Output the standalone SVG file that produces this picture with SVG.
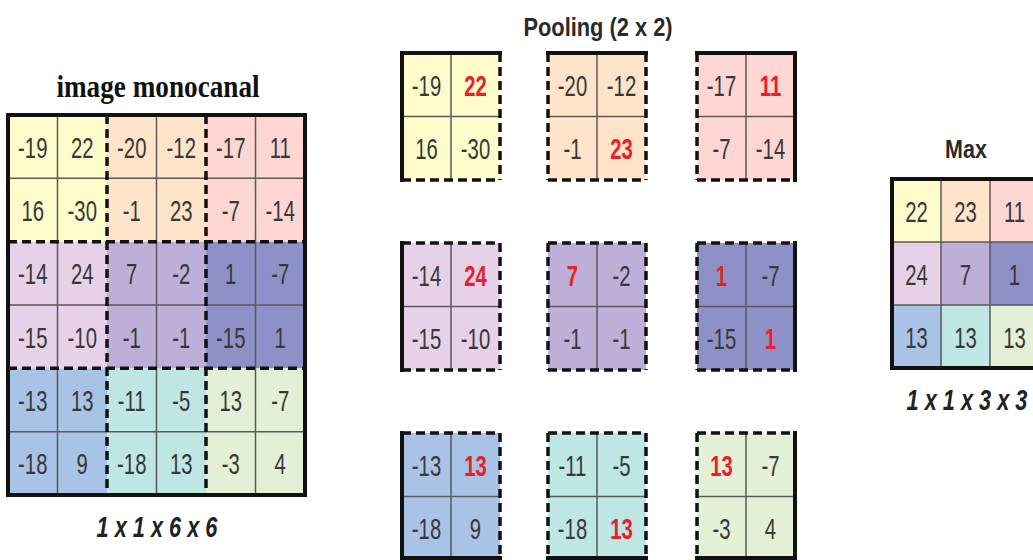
<svg xmlns="http://www.w3.org/2000/svg" width="1033" height="560" viewBox="0 0 1033 560">
<style>
.t{font-family:"Liberation Sans",Arial,sans-serif;font-size:29px;fill:#383838;text-anchor:middle}
.r{fill:#e8202a;font-weight:bold}
.thin{stroke:#5a5a5a;stroke-width:1.5;fill:none}
.dash{stroke:#111;stroke-width:3.5;stroke-dasharray:9 5;fill:none}
.solid{stroke:#111;stroke-width:4;fill:none;stroke-linecap:square}
.ttl{font-family:"Liberation Sans",Arial,sans-serif;font-weight:bold;fill:#2a2a2a;text-anchor:middle}
.dim{font-family:"Liberation Sans",Arial,sans-serif;font-weight:bold;font-style:italic;font-size:29px;fill:#222;text-anchor:middle}
.y{fill:#FEFCCB}.p{fill:#FFE4C9}.k{fill:#FDD5D3}.l{fill:#E6D1E8}.v{fill:#BEAFD8}.i{fill:#8D91C7}.b{fill:#A9C3E6}.c{fill:#BEE6E3}.g{fill:#E3F0D5}
</style>
<g id="connectors"/>
<g id="input-grid">
<text transform="translate(158,97) scale(0.85,1)" style="font-family:'Liberation Serif','Times New Roman',serif;font-weight:bold;font-size:32px;fill:#111;text-anchor:middle">image monocanal</text>
<rect class="y" x="8" y="115" width="99" height="126.7"/>
<rect class="p" x="107" y="115" width="99" height="126.7"/>
<rect class="k" x="206" y="115" width="99" height="126.7"/>
<rect class="l" x="8" y="241.7" width="99" height="126.6"/>
<rect class="v" x="107" y="241.7" width="99" height="126.6"/>
<rect class="i" x="206" y="241.7" width="99" height="126.6"/>
<rect class="b" x="8" y="368.3" width="99" height="126.7"/>
<rect class="c" x="107" y="368.3" width="99" height="126.7"/>
<rect class="g" x="206" y="368.3" width="99" height="126.7"/>
<path class="thin" d="M57.5 115V495M156.5 115V495M255.5 115V495M8 178.3H305M8 305H305M8 431.7H305"/>
<path class="dash" d="M107 115V495M206 115V495M8 241.7H305M8 368.3H305"/>
<rect class="solid" x="8" y="115" width="297" height="380"/>
<g class="t">
<text transform="translate(32.75,157.7) scale(0.7,1)">-19</text>
<text transform="translate(82.25,157.7) scale(0.7,1)">22</text>
<text transform="translate(131.75,157.7) scale(0.7,1)">-20</text>
<text transform="translate(181.25,157.7) scale(0.7,1)">-12</text>
<text transform="translate(230.75,157.7) scale(0.7,1)">-17</text>
<text transform="translate(280.25,157.7) scale(0.7,1)">11</text>
<text transform="translate(32.75,221) scale(0.7,1)">16</text>
<text transform="translate(82.25,221) scale(0.7,1)">-30</text>
<text transform="translate(131.75,221) scale(0.7,1)">-1</text>
<text transform="translate(181.25,221) scale(0.7,1)">23</text>
<text transform="translate(230.75,221) scale(0.7,1)">-7</text>
<text transform="translate(280.25,221) scale(0.7,1)">-14</text>
<text transform="translate(32.75,284.3) scale(0.7,1)">-14</text>
<text transform="translate(82.25,284.3) scale(0.7,1)">24</text>
<text transform="translate(131.75,284.3) scale(0.7,1)">7</text>
<text transform="translate(181.25,284.3) scale(0.7,1)">-2</text>
<text transform="translate(230.75,284.3) scale(0.7,1)">1</text>
<text transform="translate(280.25,284.3) scale(0.7,1)">-7</text>
<text transform="translate(32.75,347.7) scale(0.7,1)">-15</text>
<text transform="translate(82.25,347.7) scale(0.7,1)">-10</text>
<text transform="translate(131.75,347.7) scale(0.7,1)">-1</text>
<text transform="translate(181.25,347.7) scale(0.7,1)">-1</text>
<text transform="translate(230.75,347.7) scale(0.7,1)">-15</text>
<text transform="translate(280.25,347.7) scale(0.7,1)">1</text>
<text transform="translate(32.75,411) scale(0.7,1)">-13</text>
<text transform="translate(82.25,411) scale(0.7,1)">13</text>
<text transform="translate(131.75,411) scale(0.7,1)">-11</text>
<text transform="translate(181.25,411) scale(0.7,1)">-5</text>
<text transform="translate(230.75,411) scale(0.7,1)">13</text>
<text transform="translate(280.25,411) scale(0.7,1)">-7</text>
<text transform="translate(32.75,474.3) scale(0.7,1)">-18</text>
<text transform="translate(82.25,474.3) scale(0.7,1)">9</text>
<text transform="translate(131.75,474.3) scale(0.7,1)">-18</text>
<text transform="translate(181.25,474.3) scale(0.7,1)">13</text>
<text transform="translate(230.75,474.3) scale(0.7,1)">-3</text>
<text transform="translate(280.25,474.3) scale(0.7,1)">4</text>
</g>
<text class="dim" transform="translate(157,537) scale(0.75,1)">1 x 1 x 6 x 6</text>
</g>
<text class="ttl" transform="translate(598,36) scale(0.84,1)" style="font-size:26px">Pooling (2 x 2)</text>
<g id="pool-0-0">
<rect class="y" x="402" y="53" width="98" height="127"/>
<path class="thin" d="M451 53V180M402 116.5H500"/>
<path class="dash" d="M500 53V180M402 180H500"/>
<path class="solid" d="M402 180V53H500"/>
<g class="t"><text transform="translate(426.5,95.75) scale(0.7,1)">-19</text><text class="r" transform="translate(475.5,95.75) scale(0.7,1)">22</text><text transform="translate(426.5,159.25) scale(0.7,1)">16</text><text transform="translate(475.5,159.25) scale(0.7,1)">-30</text></g>
</g>
<g id="pool-0-1">
<rect class="p" x="548" y="53" width="98" height="127"/>
<path class="thin" d="M597 53V180M548 116.5H646"/>
<path class="dash" d="M548 53V180M646 53V180M548 180H646"/>
<path class="solid" d="M548 53H646"/>
<g class="t"><text transform="translate(572.5,95.75) scale(0.7,1)">-20</text><text transform="translate(621.5,95.75) scale(0.7,1)">-12</text><text transform="translate(572.5,159.25) scale(0.7,1)">-1</text><text class="r" transform="translate(621.5,159.25) scale(0.7,1)">23</text></g>
</g>
<g id="pool-0-2">
<rect class="k" x="697" y="53" width="98" height="127"/>
<path class="thin" d="M746 53V180M697 116.5H795"/>
<path class="dash" d="M697 53V180M697 180H795"/>
<path class="solid" d="M697 53H795V180"/>
<g class="t"><text transform="translate(721.5,95.75) scale(0.7,1)">-17</text><text class="r" transform="translate(770.5,95.75) scale(0.7,1)">11</text><text transform="translate(721.5,159.25) scale(0.7,1)">-7</text><text transform="translate(770.5,159.25) scale(0.7,1)">-14</text></g>
</g>
<g id="pool-1-0">
<rect class="l" x="402" y="243" width="98" height="127"/>
<path class="thin" d="M451 243V370M402 306.5H500"/>
<path class="dash" d="M402 243H500M500 243V370M402 370H500"/>
<path class="solid" d="M402 243V370"/>
<g class="t"><text transform="translate(426.5,285.75) scale(0.7,1)">-14</text><text class="r" transform="translate(475.5,285.75) scale(0.7,1)">24</text><text transform="translate(426.5,349.25) scale(0.7,1)">-15</text><text transform="translate(475.5,349.25) scale(0.7,1)">-10</text></g>
</g>
<g id="pool-1-1">
<rect class="v" x="548" y="243" width="98" height="127"/>
<path class="thin" d="M597 243V370M548 306.5H646"/>
<path class="dash" d="M548 243H646M548 243V370M646 243V370M548 370H646"/>
<g class="t"><text class="r" transform="translate(572.5,285.75) scale(0.7,1)">7</text><text transform="translate(621.5,285.75) scale(0.7,1)">-2</text><text transform="translate(572.5,349.25) scale(0.7,1)">-1</text><text transform="translate(621.5,349.25) scale(0.7,1)">-1</text></g>
</g>
<g id="pool-1-2">
<rect class="i" x="697" y="243" width="98" height="127"/>
<path class="thin" d="M746 243V370M697 306.5H795"/>
<path class="dash" d="M697 243H795M697 243V370M697 370H795"/>
<path class="solid" d="M795 243V370"/>
<g class="t"><text class="r" transform="translate(721.5,285.75) scale(0.7,1)">1</text><text transform="translate(770.5,285.75) scale(0.7,1)">-7</text><text transform="translate(721.5,349.25) scale(0.7,1)">-15</text><text class="r" transform="translate(770.5,349.25) scale(0.7,1)">1</text></g>
</g>
<g id="pool-2-0">
<rect class="b" x="402" y="433" width="98" height="127"/>
<path class="thin" d="M451 433V560M402 496.5H500"/>
<path class="dash" d="M402 433H500M500 433V560"/>
<path class="solid" d="M402 433V558H500"/>
<g class="t"><text transform="translate(426.5,475.75) scale(0.7,1)">-13</text><text class="r" transform="translate(475.5,475.75) scale(0.7,1)">13</text><text transform="translate(426.5,539.25) scale(0.7,1)">-18</text><text transform="translate(475.5,539.25) scale(0.7,1)">9</text></g>
</g>
<g id="pool-2-1">
<rect class="c" x="548" y="433" width="98" height="127"/>
<path class="thin" d="M597 433V560M548 496.5H646"/>
<path class="dash" d="M548 433H646M548 433V560M646 433V560"/>
<path class="solid" d="M548 558H646"/>
<g class="t"><text transform="translate(572.5,475.75) scale(0.7,1)">-11</text><text transform="translate(621.5,475.75) scale(0.7,1)">-5</text><text transform="translate(572.5,539.25) scale(0.7,1)">-18</text><text class="r" transform="translate(621.5,539.25) scale(0.7,1)">13</text></g>
</g>
<g id="pool-2-2">
<rect class="g" x="697" y="433" width="98" height="127"/>
<path class="thin" d="M746 433V560M697 496.5H795"/>
<path class="dash" d="M697 433H795M697 433V560"/>
<path class="solid" d="M795 433V558H697"/>
<g class="t"><text class="r" transform="translate(721.5,475.75) scale(0.7,1)">13</text><text transform="translate(770.5,475.75) scale(0.7,1)">-7</text><text transform="translate(721.5,539.25) scale(0.7,1)">-3</text><text transform="translate(770.5,539.25) scale(0.7,1)">4</text></g>
</g>
<g id="max-grid">
<text class="ttl" transform="translate(966,158) scale(0.86,1)" style="font-size:25px">Max</text>
<rect class="y" x="892" y="179" width="49" height="63"/>
<rect class="p" x="941" y="179" width="49" height="63"/>
<rect class="k" x="990" y="179" width="49" height="63"/>
<rect class="l" x="892" y="242" width="49" height="63"/>
<rect class="v" x="941" y="242" width="49" height="63"/>
<rect class="i" x="990" y="242" width="49" height="63"/>
<rect class="b" x="892" y="305" width="49" height="63"/>
<rect class="c" x="941" y="305" width="49" height="63"/>
<rect class="g" x="990" y="305" width="49" height="63"/>
<path class="thin" d="M941 179V368M990 179V368M892 242H1039M892 305H1039"/>
<rect class="solid" x="892" y="179" width="147" height="189"/>
<g class="t">
<text transform="translate(916.5,221.5) scale(0.7,1)">22</text>
<text transform="translate(965.5,221.5) scale(0.7,1)">23</text>
<text transform="translate(1014.5,221.5) scale(0.7,1)">11</text>
<text transform="translate(916.5,284.5) scale(0.7,1)">24</text>
<text transform="translate(965.5,284.5) scale(0.7,1)">7</text>
<text transform="translate(1014.5,284.5) scale(0.7,1)">1</text>
<text transform="translate(916.5,347.5) scale(0.7,1)">13</text>
<text transform="translate(965.5,347.5) scale(0.7,1)">13</text>
<text transform="translate(1014.5,347.5) scale(0.7,1)">13</text>
</g>
<text class="dim" transform="translate(967,410) scale(0.75,1)">1 x 1 x 3 x 3</text>
</g>
</svg>
